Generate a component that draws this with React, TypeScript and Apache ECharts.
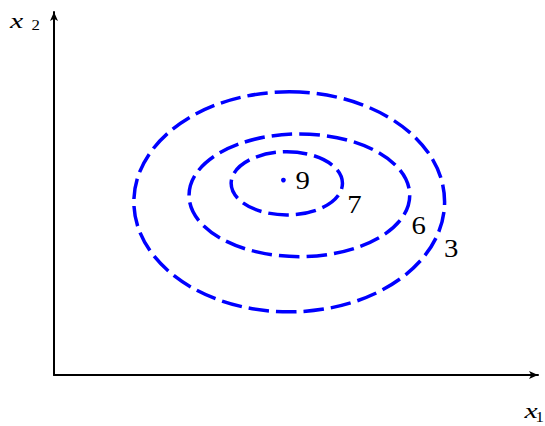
import React, { useEffect, useRef } from "react";
import * as echarts from "echarts";

// Contour levels, outermost first
const levels = [3, 6, 7];
// Centres and semi-axes of each elliptical contour, in data units
const centreX = [48.6, 50.7, 48.1];
const centreY = [47.7, 49.5, 52.8];
const semiX = [32.1, 22.8, 11.5];
const semiY = [30.3, 16.9, 8.7];
// The maximum of the surface
const peakX = [47.4];
const peakY = [53.7];
const peakValue = [9];
// Axis variable names: [symbol, subscript]
const xName = ["x", "1"];
const yName = ["x", "2"];

const BLUE = "#0000ff";
const SERIF = "Liberation Serif";

export default function App() {
  const ref = useRef<HTMLDivElement>(null);

  useEffect(() => {
    if (!ref.current) return;
    const chart = echarts.init(ref.current, null, { renderer: "svg" });

    const axisCommon = {
      type: "value" as const,
      min: 0,
      max: 100,
      splitLine: { show: false },
      axisTick: { show: false },
      axisLabel: { show: false },
      axisLine: {
        show: true,
        symbol: ["none", "arrow"],
        symbolSize: [6, 9],
        lineStyle: { color: "#000", width: 2 },
      },
    };

    const contourData = levels.map((lv, i) => [
      centreX[i],
      centreY[i],
      semiX[i],
      semiY[i],
      lv,
    ]);

    // a serif text, horizontally widened a little like TeX glyphs
    const serifText = (
      txt: string,
      x: number,
      y: number,
      size: number,
      italic: boolean,
      align: string,
      widen: number
    ) => ({
      type: "text",
      x,
      y,
      scaleX: widen,
      silent: true,
      style: {
        text: txt,
        fontFamily: SERIF,
        fontSize: size,
        fontStyle: italic ? "italic" : "normal",
        fill: "#000",
        textAlign: align,
        align,
        textVerticalAlign: "middle",
        verticalAlign: "middle",
      },
    });

    chart.setOption({
      animation: false,
      backgroundColor: "#fff",
      grid: { left: 54, top: 12, right: 7, bottom: 51 },
      xAxis: axisCommon,
      yAxis: axisCommon,
      graphic: [
        serifText(yName[0], 10, 20.6, 22, true, "left", 1.35),
        serifText(yName[1], 31.5, 25.3, 14, false, "left", 1.2),
        serifText(xName[0], 524.5, 410.6, 22, true, "left", 1.35),
        serifText(xName[1], 535.5, 417.3, 14, false, "left", 1.2),
      ],
      series: [
        {
          type: "custom",
          coordinateSystem: "cartesian2d",
          data: contourData,
          encode: { x: 0, y: 1 },
          clip: false,
          renderItem: (params: any, api: any) => {
            const c = api.coord([api.value(0), api.value(1)]);
            const s = api.size([api.value(2), api.value(3)]);
            const rx = s[0];
            const ry = s[1];
            const t = (19 * Math.PI) / 180;
            return {
              type: "group",
              children: [
                {
                  // rotated so the stroke starts at the top and runs clockwise
                  type: "ellipse",
                  x: c[0],
                  y: c[1],
                  rotation: -Math.PI / 2,
                  shape: { cx: 0, cy: 0, rx: ry, ry: rx },
                  style: {
                    fill: "none",
                    stroke: BLUE,
                    lineWidth: 3.5,
                    lineDash: [20.5, 7],
                  },
                },
                serifText(
                  String(api.value(4)),
                  c[0] + rx * Math.cos(t) + 15,
                  c[1] + ry * Math.sin(t) + 10.6,
                  25,
                  false,
                  "center",
                  1.15
                ),
              ],
            };
          },
        },
        {
          type: "custom",
          coordinateSystem: "cartesian2d",
          data: peakX.map((x, i) => [x, peakY[i], peakValue[i]]),
          encode: { x: 0, y: 1 },
          clip: false,
          renderItem: (params: any, api: any) => {
            const c = api.coord([api.value(0), api.value(1)]);
            return {
              type: "group",
              children: [
                {
                  type: "circle",
                  shape: { cx: c[0], cy: c[1], r: 2.4 },
                  style: { fill: BLUE },
                },
                serifText(
                  String(api.value(2)),
                  c[0] + 19.2,
                  c[1] + 1,
                  25,
                  false,
                  "center",
                  1.15
                ),
              ],
            };
          },
        },
      ],
    });

    return () => chart.dispose();
  }, []);

  return (
    <div
      ref={ref}
      style={{
        position: "fixed",
        left: 0,
        top: 0,
        width: 545,
        height: 426,
        background: "#fff",
      }}
    />
  );
}
